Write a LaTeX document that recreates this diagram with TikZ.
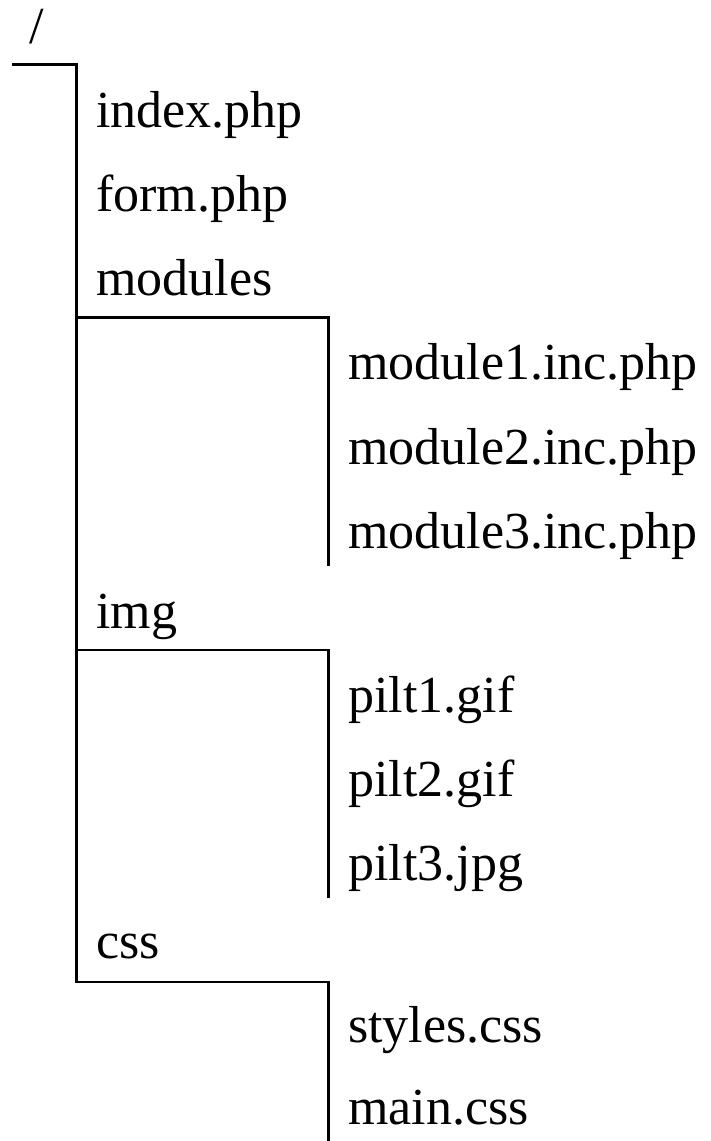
\documentclass[tikz,border=0pt]{standalone}
\usepackage{fontspec}
\setmainfont{Liberation Serif}
\begin{document}
\begin{tikzpicture}[x=1pt,y=-1pt,
  treeline/.style={draw=black, line width=2.6pt, line cap=butt, line join=miter},
  entry/.style={anchor=base west, inner sep=0pt, font=\fontsize{52}{60}\selectfont}]
\useasboundingbox (0,0) rectangle (711,1141);
% texts
\node[entry] (root) at (29,43) {/};
\node[entry] (index) at (96,127) {index.php};
\node[entry] (form) at (96,211) {form.php};
\node[entry] (modules) at (96,295) {modules};
\node[entry] (m1) at (348,379) {module1.inc.php};
\node[entry] (m2) at (348,464) {module2.inc.php};
\node[entry] (m3) at (348,548) {module3.inc.php};
\node[entry] (img) at (96,628) {img};
\node[entry] (p1) at (348,712) {pilt1.gif};
\node[entry] (p2) at (348,796) {pilt2.gif};
\node[entry] (p3) at (348,880) {pilt3.jpg};
\node[entry] (css) at (96,958) {css};
\node[entry] (st) at (348,1042) {styles.css};
\node[entry] (mc) at (348,1124) {main.css};
% tree coordinates
\coordinate (r0) at (12,64.7);
\coordinate (r1) at (76.7,64.7);
\coordinate (r2) at (76.7,982);
\coordinate (c1) at (328.3,982);
\coordinate (c2) at (328.3,1141);
\coordinate (mA) at (76.7,317.7);
\coordinate (mB) at (328.3,317.7);
\coordinate (mC) at (328.3,566);
\coordinate (iA) at (76.7,650);
\coordinate (iB) at (328.3,650);
\coordinate (iC) at (328.3,898);
% tree lines
\draw[treeline] (r0) -- (r1) -- (r2) -- (c1) -- (c2);
\draw[treeline] (mA) -- (mB) -- (mC);
\draw[treeline] (iA) -- (iB) -- (iC);
\end{tikzpicture}
\end{document}
